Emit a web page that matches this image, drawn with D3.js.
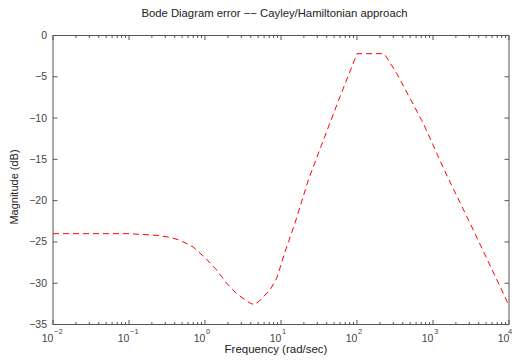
<!DOCTYPE html>
<html><head><meta charset="utf-8">
<script src="https://cdn.jsdelivr.net/npm/d3@7"></script>
<style>body{margin:0;background:#fff}text{font-family:"Liberation Sans",Arial,sans-serif}</style>
</head><body><svg id="c" width="515" height="362"></svg>
<script>
const freq = [0.01, 0.05, 0.1, 0.231, 0.35, 0.469, 0.695, 1.0, 1.425, 1.93, 2.27, 2.64, 3.36, 3.91, 4.41, 4.98, 5.79, 7.17, 8.78, 11.3, 15.3, 22.9, 36.0, 59.8, 100, 225, 233.6, 332.7, 745, 1513, 3392, 10000];
const magDb = [-24.0, -24.0, -24.0, -24.2, -24.45, -24.8, -25.6, -26.9, -28.4, -30.0, -30.7, -31.3, -32.0, -32.4, -32.6, -32.3, -31.7, -30.8, -29.4, -26.2, -22.7, -17.5, -12.7, -7.4, -2.2, -2.2, -2.35, -4.58, -10.63, -16.9, -23.56, -32.7];
const yTicks = [0, -5, -10, -15, -20, -25, -30, -35];
const xExps = [-2, -1, 0, 1, 2, 3, 4];
const title = "Bode Diagram error −− Cayley/Hamiltonian approach";
const xLabel = "Frequency  (rad/sec)";
const yLabel = "Magnitude (dB)";

const L = 53, R = 509, T = 35.5, B = 324.5;
const svg = d3.select("#c");
const x = d3.scaleLog().domain([1e-2, 1e4]).range([L, R]);
const y = d3.scaleLinear().domain([-35, 0]).range([B, T]);
const axisCol = "#555", txtCol = "#444";

svg.append("rect").attr("x", L).attr("y", T).attr("width", R - L).attr("height", B - T)
  .attr("fill", "none").attr("stroke", axisCol).attr("stroke-width", 1);

const minor = [];
for (let e = -2; e < 4; e++) for (let k = 2; k <= 9; k++) minor.push(k * Math.pow(10, e));
const g = svg.append("g").attr("stroke", axisCol).attr("stroke-width", 1);
minor.forEach(f => {
  const px = x(f);
  g.append("line").attr("x1", px).attr("x2", px).attr("y1", B).attr("y2", B - 2.5);
  g.append("line").attr("x1", px).attr("x2", px).attr("y1", T).attr("y2", T + 2.5);
});
xExps.forEach(e => {
  const px = x(Math.pow(10, e));
  g.append("line").attr("x1", px).attr("x2", px).attr("y1", B).attr("y2", B - 4.5);
  g.append("line").attr("x1", px).attr("x2", px).attr("y1", T).attr("y2", T + 4.5);
  svg.append("text").attr("x", px - 5.5).attr("y", 342).attr("text-anchor", "middle")
    .attr("font-size", 10.5).attr("fill", txtCol).text("10");
  svg.append("text").attr("x", Math.min(px + 1, 508)).attr("y", 334).attr("font-size", 7.5).attr("fill", txtCol)
    .text(e < 0 ? "−" + (-e) : String(e));
});
yTicks.forEach(v => {
  const py = y(v);
  g.append("line").attr("x1", L).attr("x2", L + 4.5).attr("y1", py).attr("y2", py);
  g.append("line").attr("x1", R).attr("x2", R - 4.5).attr("y1", py).attr("y2", py);
  svg.append("text").attr("x", 47).attr("y", py + 3.5).attr("text-anchor", "end")
    .attr("font-size", 10.5).attr("fill", txtCol).text(v < 0 ? "−" + (-v) : String(v));
});

const line = d3.line().x((d, i) => x(freq[i])).y(d => y(d));
svg.append("path").datum(magDb).attr("d", line).attr("fill", "none")
  .attr("stroke", "#ff0000").attr("stroke-width", 1).attr("stroke-dasharray", "6,4");

svg.append("text").attr("x", 274.5).attr("y", 17).attr("text-anchor", "middle")
  .attr("font-size", 11.3).attr("fill", "#222").text(title);
svg.append("text").attr("x", 276).attr("y", 353).attr("text-anchor", "middle")
  .attr("font-size", 11.5).attr("fill", "#222").text(xLabel);
svg.append("text").attr("transform", "translate(18,187) rotate(-90)").attr("text-anchor", "middle")
  .attr("font-size", 11).attr("fill", "#222").text(yLabel);
</script></body></html>
